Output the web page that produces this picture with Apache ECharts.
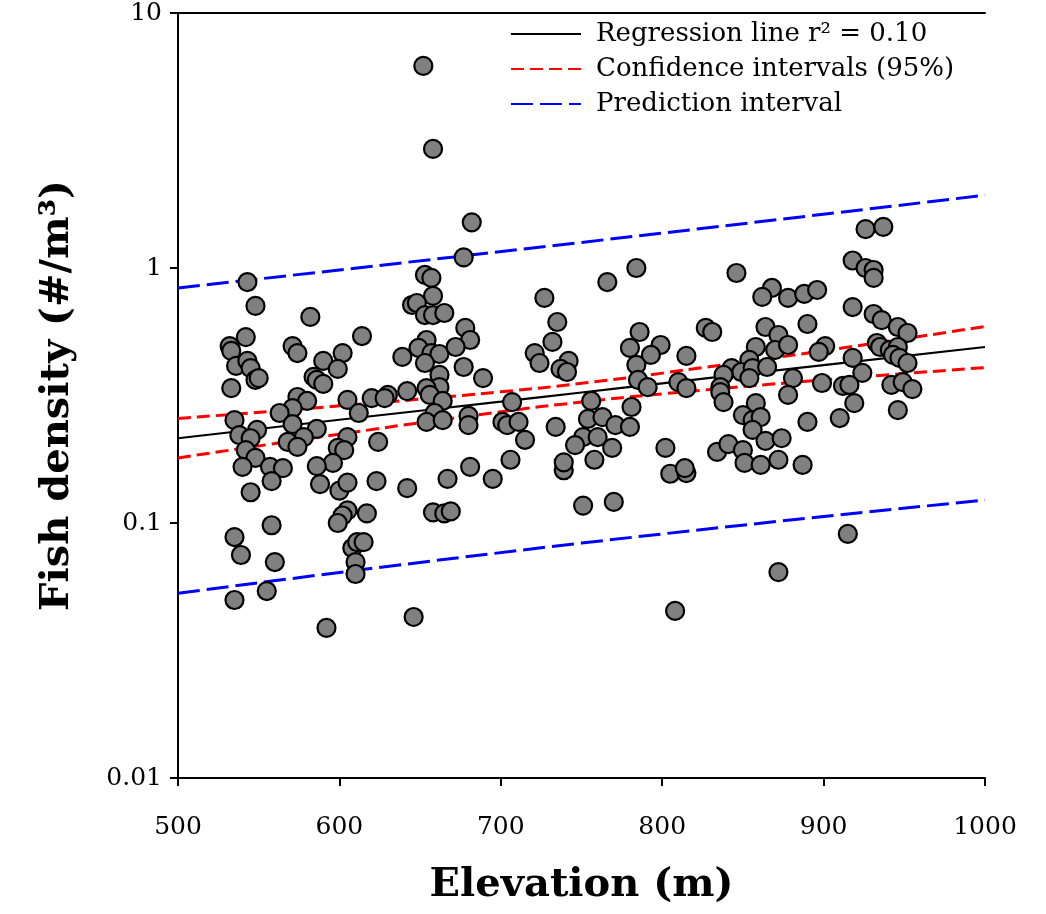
<!DOCTYPE html>
<html>
<head>
<meta charset="utf-8">
<script src="https://cdn.jsdelivr.net/npm/echarts@6/dist/echarts.min.js"></script>
<style>
	html, body { margin: 0; padding: 0; background: #fff; }
	#chart { width: 1046px; height: 914px; }
</style>
</head>
<body>
<div id="chart"></div>
<script>
// fish density (#/m3) against elevation (m)
var elevation = [
	652, 658, 682, 677, 543, 653, 657, 766, 784, 846, 926, 937, 918, 926, 931, 931, 868, 862, 878, 888, 896,
	548, 582, 542, 532, 533, 571, 574, 614, 602, 590, 599, 536, 543, 545, 548, 550, 584, 586, 590, 533,
	574, 580, 571, 563, 605, 612, 620, 535, 571, 538, 549, 545, 586, 578, 568, 574, 605, 599, 603, 542,
	548, 557, 565, 596, 540, 558, 586, 588, 600, 605, 623, 642, 545, 558, 605, 602, 599, 617, 535, 539,
	560, 608, 611, 615, 610, 610, 555, 535, 592, 646,
	667, 695, 658, 665, 669, 739, 751, 805, 815, 770, 872, 808, 915,
	658, 645, 648, 653, 658, 665, 678, 681, 654, 649, 657, 662, 672, 639, 653, 677, 689, 662, 662, 654,
	642, 630, 628, 656, 664, 707, 659, 654, 664, 680, 680, 701, 704, 711, 624, 706, 681,
	727, 735, 732, 721, 724, 742, 737, 741, 786, 780, 799, 793, 784, 785, 791, 756, 781, 754, 763, 734,
	771, 780, 715, 751, 760, 746, 769, 739, 758, 802,
	827, 831, 864, 872, 890, 858, 870, 878, 815, 854, 843, 849, 856, 865, 838, 854, 881, 810, 815, 836,
	836, 878, 838, 858, 850, 856, 861, 856, 890, 834, 841, 850, 864, 874, 851, 861, 872, 887, 814,
	918, 931, 936, 946, 952, 901, 897, 933, 935, 941, 946, 943, 947, 918, 952, 924, 899, 912, 916, 942,
	949, 955, 919, 946, 910
];
var density = [
	6.20, 2.93, 1.51, 1.10, 0.881, 0.939, 0.914, 0.881, 1.0, 0.956, 1.42, 1.45, 1.07, 1.0, 0.982, 0.914, 0.835, 0.770, 0.763, 0.791, 0.820,
	0.710, 0.643, 0.536, 0.494, 0.473, 0.494, 0.464, 0.541, 0.464, 0.432, 0.402, 0.413, 0.432, 0.405, 0.364, 0.370, 0.374, 0.364, 0.351, 0.338,
	0.312, 0.301, 0.282, 0.270, 0.304, 0.270, 0.309, 0.253, 0.244, 0.221, 0.232, 0.215, 0.234, 0.217, 0.208, 0.199, 0.217, 0.197, 0.193, 0.193,
	0.180, 0.166, 0.164, 0.172, 0.166, 0.146, 0.167, 0.142, 0.134, 0.144, 0.146, 0.137, 0.132, 0.098, 0.112, 0.107, 0.100, 0.109, 0.0881, 0.0749,
	0.0703, 0.0798, 0.0842, 0.0842, 0.0703, 0.0631, 0.0541, 0.0499, 0.0388, 0.0428,
	0.149, 0.149, 0.110, 0.109, 0.111, 0.161, 0.117, 0.156, 0.157, 0.121, 0.0642, 0.0452, 0.0906,
	0.777, 0.716, 0.729, 0.654, 0.654, 0.666, 0.582, 0.522, 0.522, 0.486, 0.464, 0.460, 0.490, 0.448, 0.424, 0.409, 0.370, 0.381, 0.341, 0.338,
	0.329, 0.318, 0.309, 0.318, 0.301, 0.298, 0.270, 0.249, 0.253, 0.263, 0.242, 0.249, 0.242, 0.249, 0.208, 0.177, 0.166,
	0.763, 0.614, 0.513, 0.464, 0.424, 0.432, 0.402, 0.391, 0.561, 0.486, 0.499, 0.456, 0.417, 0.364, 0.341, 0.301, 0.285, 0.256, 0.260, 0.238,
	0.242, 0.238, 0.212, 0.217, 0.217, 0.202, 0.197, 0.173, 0.177, 0.197,
	0.582, 0.561, 0.587, 0.546, 0.603, 0.490, 0.477, 0.499, 0.452, 0.436, 0.405, 0.391, 0.405, 0.409, 0.381, 0.370, 0.370, 0.357, 0.338, 0.341,
	0.326, 0.318, 0.298, 0.295, 0.265, 0.253, 0.260, 0.232, 0.249, 0.190, 0.204, 0.193, 0.210, 0.215, 0.172, 0.169, 0.177, 0.169, 0.164,
	0.703, 0.660, 0.625, 0.587, 0.556, 0.494, 0.469, 0.508, 0.490, 0.477, 0.490, 0.456, 0.444, 0.444, 0.424, 0.388, 0.354, 0.345, 0.348, 0.348,
	0.357, 0.335, 0.295, 0.277, 0.258
];

// regression line and 95% confidence band
var fitElevation = [500, 600, 700, 750, 800, 900, 1000];
var regression = [0.215, 0.254, 0.299, 0.325, 0.353, 0.416, 0.490];
var ciUpper = [0.257, 0.288, 0.327, 0.353, 0.387, 0.474, 0.590];
var ciLower = [0.180, 0.223, 0.273, 0.298, 0.321, 0.364, 0.407];

// prediction interval
var piElevation = [500, 750, 1000];
var piUpper = [0.835, 1.26, 1.93];
var piLower = [0.053, 0.0834, 0.123];

var xTicks = [500, 600, 700, 800, 900, 1000];
var yTickLabels = ['0.01', '0.1', '1', '10'];

function pairs(xs, ys) {
	return xs.map(function(x, i) { return [x, ys[i]]; });
}

var FONT = 'DejaVu Serif';
var regName = 'Regression line r\u00b2 = 0.10';
var ciName = 'Confidence intervals (95%)';
var piName = 'Prediction interval';

// one dashed/solid line series, no symbols
function lineSeries(name, xs, ys, color, width, type) {
	return {
		name : name,
		type : 'line',
		data : pairs(xs, ys),
		symbol : 'none',
		smooth : true,
		itemStyle : { color : color },
		lineStyle : { color : color, width : width, type : type },
		z : 2
	};
}

var myChart = echarts.init(document.getElementById('chart'));
var option = {
	backgroundColor : '#fff',
	animation : false,
	grid : {
		left : 178,
		right : 61,
		top : 13,
		bottom : 136
	},
	legend : {
		orient : 'vertical',
		left : 505,
		top : 16,
		itemWidth : 70,
		itemHeight : 14,
		itemGap : 9,
		data : [ regName, ciName, piName ],
		itemStyle : { opacity : 0 },
		textStyle : {
			fontFamily : FONT,
			fontSize : 26,
			color : '#000',
			padding : [ 0, 0, 0, 10 ]
		}
	},
	xAxis : [ {
		type : 'value',
		min : xTicks[0],
		max : xTicks[xTicks.length - 1],
		interval : 100,
		name : 'Elevation (m)',
		nameLocation : 'middle',
		nameGap : 88,
		nameTextStyle : {
			fontFamily : FONT,
			fontSize : 40,
			fontWeight : 'bold',
			color : '#000'
		},
		axisLine : { lineStyle : { color : '#000', width : 2 } },
		axisTick : { show : true, inside : false, length : 8, lineStyle : { color : '#000', width : 2 } },
		axisLabel : {
			fontFamily : FONT,
			fontSize : 25,
			color : '#000',
			margin : 37,
			formatter : function(v) { return String(v); }
		},
		splitLine : { show : false }
	}, {
		type : 'value',
		position : 'top',
		min : xTicks[0],
		max : xTicks[xTicks.length - 1],
		axisLine : { show : true, onZero : false, lineStyle : { color : '#000', width : 2 } },
		axisTick : { show : false },
		axisLabel : { show : false },
		splitLine : { show : false }
	} ],
	yAxis : {
		type : 'log',
		logBase : 10,
		min : 0.01,
		max : 10,
		name : 'Fish density (#/m\u00b3)',
		nameLocation : 'middle',
		nameGap : 100,
		nameTextStyle : {
			fontFamily : FONT,
			fontSize : 40,
			fontWeight : 'bold',
			color : '#000'
		},
		axisLine : { show : true, lineStyle : { color : '#000', width : 2 } },
		axisTick : { show : true, inside : false, length : 8, lineStyle : { color : '#000', width : 2 } },
		axisLabel : {
			fontFamily : FONT,
			fontSize : 25,
			color : '#000',
			margin : 16,
			formatter : function(v) {
				var i = Math.round(Math.log10(v)) + 2;
				return yTickLabels[i] !== undefined ? yTickLabels[i] : '';
			}
		},
		splitLine : { show : false }
	},
	series : [
		lineSeries(regName, fitElevation, regression, '#000000', 2.2, 'solid'),
		lineSeries(ciName, fitElevation, ciUpper, '#ff0000', 3, [ 13, 6 ]),
		lineSeries(ciName, fitElevation, ciLower, '#ff0000', 3, [ 13, 6 ]),
		lineSeries(piName, piElevation, piUpper, '#0000ff', 3, [ 22, 7 ]),
		lineSeries(piName, piElevation, piLower, '#0000ff', 3, [ 22, 7 ]),
		{
			name : 'Fish density',
			type : 'scatter',
			data : pairs(elevation, density),
			symbol : 'circle',
			symbolSize : 18,
			itemStyle : { color : '#808080', borderColor : '#000', borderWidth : 2.2, opacity : 1 },
			z : 5
		}
	]
};
myChart.setOption(option);
</script>
</body>
</html>
